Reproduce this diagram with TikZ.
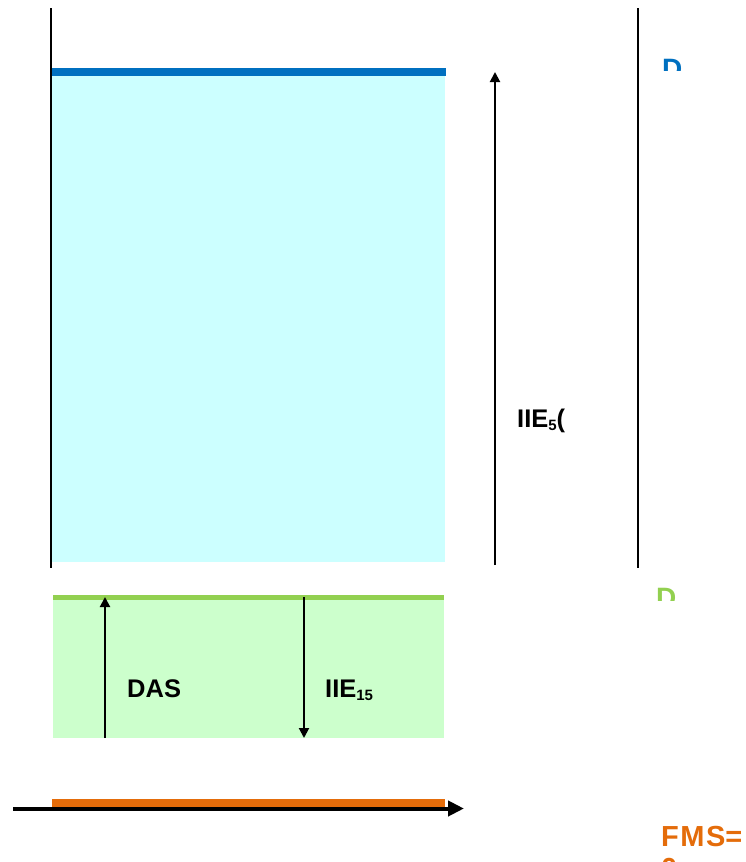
\documentclass[tikz,border=0pt]{standalone}
\usepackage{fontspec}
\setmainfont{Liberation Sans}
\usetikzlibrary{arrows.meta}
\definecolor{cyanfill}{HTML}{CCFFFF}
\definecolor{greenfill}{HTML}{CCFFCC}
\definecolor{blueline}{HTML}{0070C0}
\definecolor{greenline}{HTML}{92D050}
\definecolor{orangeline}{HTML}{E46C0A}
\begin{document}
\begin{tikzpicture}[x=1pt,y=-1pt,
  lbl/.style={font=\fontsize{25.5}{28}\selectfont\bfseries, anchor=base west, inner sep=0pt},
  biglbl/.style={font=\fontsize{28}{32}\selectfont\bfseries, anchor=base west, inner sep=0pt, align=left},
  arr/.style={-{Triangle[length=10pt,width=10pt]}, line width=2pt},
  axisline/.style={line width=2pt, black}]
\useasboundingbox (0,0) rectangle (746,862);
% regions
\fill[cyanfill] (52,72) rectangle (445,562);
\fill[greenfill] (53,597) rectangle (444,738);
% coloured boundary lines
\draw[blueline, line width=8pt] (52,72) -- (446,72);
\draw[greenline, line width=5pt] (53,597.5) -- (444,597.5);
% vertical lines
\coordinate (lt) at (51,8); \coordinate (lb) at (51,568);
\coordinate (rt) at (638,8); \coordinate (rb) at (638,568);
\draw[axisline] (lt) -- (lb);
\draw[axisline] (rt) -- (rb);
% arrows
\coordinate (a1s) at (495,565); \coordinate (a1e) at (495,72);
\draw[arr] (a1s) -- (a1e);
\coordinate (a2s) at (105,738); \coordinate (a2e) at (105,597);
\draw[arr] (a2s) -- (a2e);
\coordinate (a3s) at (304,597); \coordinate (a3e) at (304,738);
\draw[arr] (a3s) -- (a3e);
% bottom axis
\coordinate (xs) at (13,808.5); \coordinate (xe) at (464,808.5);
\draw[line width=4pt, -{Triangle[length=16pt,width=15pt]}] (xs) -- (xe);
\draw[orangeline, line width=8pt] (52,803) -- (445,803);
% labels
\node[lbl] (iie5) at (517,427) {IIE\raisebox{-3pt}{\fontsize{15}{16}\selectfont 5}(};
\node[lbl] (das) at (127,697) {DAS};
\node[lbl] (iie15) at (325,697) {IIE\raisebox{-3pt}{\fontsize{15}{16}\selectfont 15}};
\begin{scope}
  \clip (640,0) rectangle (746,70);
  \node[biglbl, text=blueline] (dblue) at (662,78) {D};
\end{scope}
\begin{scope}
  \clip (640,570) rectangle (746,600);
  \node[biglbl, text=greenline] (dgreen) at (656,607) {D};
\end{scope}
\node[biglbl, text=orangeline, font=\fontsize{29}{32}\selectfont\bfseries] (fms) at (661,878) {F\kern1.5pt M\kern1.5pt S=\\0};
\end{tikzpicture}
\end{document}
